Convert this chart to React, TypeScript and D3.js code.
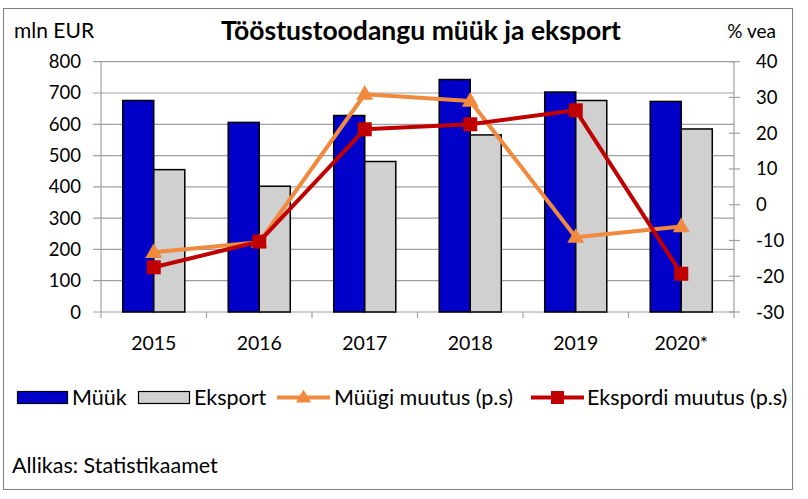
import React from "react";
import * as d3 from "d3";

const years = ["2015", "2016", "2017", "2018", "2019", "2020*"];
const myyk = [676, 606, 628, 743, 703, 673];
const eksport = [455, 402, 481, 566, 676, 585];
const myygiMuutus = [-13.3, -10.5, 30.9, 29.0, -9.1, -6.1];
const ekspordiMuutus = [-17.5, -10.3, 21.1, 22.5, 26.4, -19.3];
const leftTicks = [0, 100, 200, 300, 400, 500, 600, 700, 800];
const rightTicks = [-30, -20, -10, 0, 10, 20, 30, 40];

const FONT = "Lato, 'Open Sans', sans-serif";
const BLUE = "#0000C8";
const GRAY = "#D0D0D0";
const ORANGE = "#EF8A3F";
const RED = "#C00000";
const GRID = "#A0A0A0";

export default function App() {
  const W = 808, H = 499;
  const L = 101, R = 734, T = 61.7, B = 312;
  const x = d3.scaleBand<string>().domain(years).range([L, R]).padding(0);
  const sub = d3.scaleBand<string>().domain(["m", "e"]).range([0, x.bandwidth()]).paddingInner(0).paddingOuter(0.7);
  const yL = d3.scaleLinear().domain([0, 800]).range([B, T]);
  const yR = d3.scaleLinear().domain([-30, 40]).range([B, T]);
  const cx = (i: number) => (x(years[i]) as number) + x.bandwidth() / 2;
  const line = (vals: number[]) =>
    d3.line<number>().x((_, i) => cx(i)).y((v) => yR(v))(vals) as string;
  const tri = (px: number, py: number, s: number) => {
    const h = s * 0.866;
    return `M${px},${py - h * 0.62}L${px + s / 2},${py + h * 0.38}L${px - s / 2},${py + h * 0.38}Z`;
  };
  const bounds = d3.range(years.length + 1).map((i) => L + i * x.step());
  const LF = 21.5;

  return (
    <svg width={W} height={H} style={{ position: "absolute", left: 0, top: 0 }} fontFamily={FONT}>
      <rect x={0} y={0} width={W} height={H} fill="#fff" />
      <rect x={3.5} y={8.5} width={789} height={481} fill="none" stroke="#7f7f7f" strokeWidth={1} />
      {/* titles */}
      <text x={421} y={40} textAnchor="middle" fontSize={26.5} fontWeight="bold" fill="#000">
        Tööstustoodangu müük ja eksport
      </text>
      <text x={14} y={38} fontSize={21} fill="#000">mln EUR</text>
      <text x={776} y={38} fontSize={19} fill="#000" textAnchor="end">% vea</text>
      {/* gridlines */}
      {leftTicks.map((t) => (
        <line key={"g" + t} x1={93} x2={R} y1={yL(t)} y2={yL(t)} stroke={GRID} strokeWidth={1.2} />
      ))}
      {leftTicks.map((t) => (
        <text key={"lt" + t} x={81} y={yL(t) + 6.5} textAnchor="end" fontSize={18.5} fill="#000">
          {t}
        </text>
      ))}
      <line x1={L} x2={L} y1={T} y2={B} stroke={GRID} strokeWidth={1.2} />
      {bounds.map((b, i) => (
        <line key={"bt" + i} x1={b} x2={b} y1={B} y2={B + 6} stroke={GRID} strokeWidth={1.2} />
      ))}
      {years.map((yv, i) => (
        <text key={"yl" + yv} x={cx(i)} y={350} textAnchor="middle" fontSize={19.5} fill="#000">
          {yv}
        </text>
      ))}
      {/* right axis */}
      <line x1={R} x2={R} y1={T} y2={B} stroke={GRID} strokeWidth={1.2} />
      {rightTicks.map((t) => (
        <g key={"rt" + t}>
          <line x1={R - 5} x2={R + 6} y1={yR(t)} y2={yR(t)} stroke={GRID} strokeWidth={1.2} />
          <text x={756} y={yR(t) + 6.5} fontSize={18.5} fill="#000">{t}</text>
        </g>
      ))}
      {/* bars */}
      {years.map((yv, i) => {
        const x0 = x(yv) as number;
        return (
          <g key={"b" + yv}>
            <rect x={x0 + (sub("m") as number)} y={yL(myyk[i])} width={sub.bandwidth()} height={B - yL(myyk[i])}
              fill={BLUE} stroke="#000" strokeWidth={1.5} />
            <rect x={x0 + (sub("e") as number)} y={yL(eksport[i])} width={sub.bandwidth()} height={B - yL(eksport[i])}
              fill={GRAY} stroke="#000" strokeWidth={1.5} />
          </g>
        );
      })}
      {/* lines */}
      <path d={line(myygiMuutus)} fill="none" stroke={ORANGE} strokeWidth={4} strokeLinejoin="round" />
      {myygiMuutus.map((v, i) => (
        <path key={"mt" + i} d={tri(cx(i), yR(v), 17)} fill={ORANGE} />
      ))}
      <path d={line(ekspordiMuutus)} fill="none" stroke={RED} strokeWidth={4} strokeLinejoin="round" />
      {ekspordiMuutus.map((v, i) => (
        <rect key={"es" + i} x={cx(i) - 7} y={yR(v) - 7} width={14} height={14} fill={RED} />
      ))}
      {/* legend */}
      <rect x={17.5} y={391.5} width={50} height={12} fill={BLUE} stroke="#000" strokeWidth={1.2} />
      <text x={72} y={405} fontSize={LF} fill="#000">Müük</text>
      <rect x={138.5} y={391.5} width={51} height={12} fill={GRAY} stroke="#000" strokeWidth={1.2} />
      <text x={194} y={405} fontSize={LF} fill="#000">Eksport</text>
      <line x1={277} x2={330} y1={397.5} y2={397.5} stroke={ORANGE} strokeWidth={4} />
      <path d={tri(303.5, 397.5, 15)} fill={ORANGE} />
      <text x={334} y={405} fontSize={LF} fill="#000">Müügi muutus (p.s)</text>
      <line x1={531} x2={584} y1={397.5} y2={397.5} stroke={RED} strokeWidth={4} />
      <rect x={551} y={391} width={13} height={13} fill={RED} />
      <text x={587} y={405} fontSize={LF} fill="#000">Ekspordi muutus (p.s)</text>
      <text x={12} y={473} fontSize={LF} fill="#000">Allikas: Statistikaamet</text>
    </svg>
  );
}
